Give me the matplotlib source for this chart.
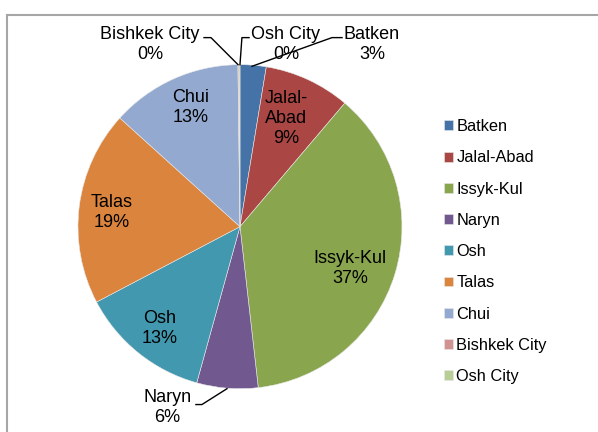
import matplotlib.pyplot as plt
from matplotlib.lines import Line2D

plt.rcParams['font.family'] = ['Liberation Sans', 'DejaVu Sans']

regions = ['Batken', 'Jalal-Abad', 'Issyk-Kul', 'Naryn', 'Osh', 'Talas', 'Chui',
           'Bishkek City', 'Osh City']
shares = [2.6, 8.6, 37.0, 6.1, 13.0, 19.4, 13.1, 0.1, 0.1]
colors = ['#4572A7', '#AA4643', '#89A54E', '#71588F', '#4198AF', '#DB843D',
          '#93A9CF', '#D19392', '#B9CD96']

# label placement (pie radius = 1); leader lines for the outside ones
label_pos = [(0.815, 1.123), (0.284, 0.667), (0.679, -0.259), (-0.45, -1.117),
             (-0.494, -0.63), (-0.79, 0.09), (-0.302, 0.738), (-0.556, 1.123),
             (0.284, 1.123)]
leaders = {
    'Batken': [(0.074, 0.99), (0.568, 1.167), (0.63, 1.167)],
    'Osh City': [(0.0, 1.0), (0.012, 1.167), (0.056, 1.167)],
    'Bishkek City': [(-0.012, 1.0), (-0.179, 1.167), (-0.222, 1.167)],
    'Naryn': [(-0.08, -1.0), (-0.235, -1.098), (-0.272, -1.098)],
}

fig = plt.figure(figsize=(5.98, 4.32), dpi=100)
ax = fig.add_axes([0.1304, 0.1003, 0.5418, 0.75])
wedges, _ = ax.pie(shares, colors=colors, startangle=90, counterclock=False,
                   radius=1, wedgeprops=dict(linewidth=0.4, edgecolor='#e8e8e8'))
ax.set_xlim(-1, 1)
ax.set_ylim(-1, 1)
ax.set_aspect('auto')

for name, val, (x, y) in zip(regions, shares, label_pos):
    text = name.replace('Jalal-', 'Jalal-\n')
    ax.text(x, y, f'{text}\n{round(val)}%', ha='center', va='center',
            fontsize=13, linespacing=1.22, clip_on=False)
for name, pts in leaders.items():
    xs, ys = zip(*pts)
    ax.plot(xs, ys, color='black', lw=1, clip_on=False)

fig.legend(wedges, regions, loc='upper left', bbox_to_anchor=(0.729, 0.743),
           frameon=False, fontsize=11.8, handlelength=0.55, handleheight=0.55,
           handletextpad=0.2, labelspacing=0.99, borderpad=0)

# chart area border (cut off on the right and bottom)
fig.add_artist(Line2D([7 / 598, 1], [1 - 15 / 432] * 2, color='#a6a6a6', lw=1.5))
fig.add_artist(Line2D([7 / 598] * 2, [0, 1 - 15 / 432], color='#a6a6a6', lw=1.5))

fig.savefig('out.png', dpi=100)
